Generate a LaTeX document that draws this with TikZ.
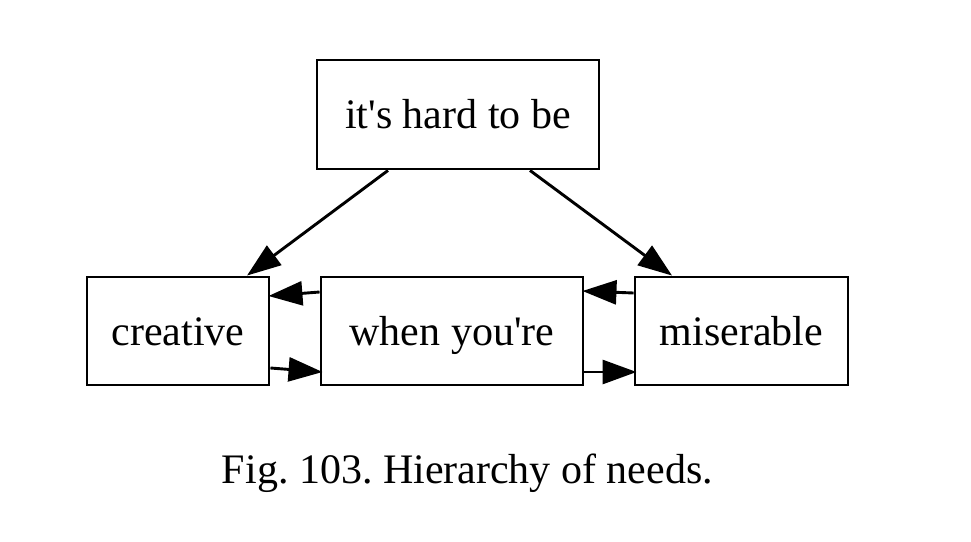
\documentclass[tikz,border=0pt]{standalone}
\usepackage{fontspec}
\setmainfont{Liberation Serif}
\usetikzlibrary{arrows.meta,calc}
\begin{document}
\frenchspacing
\begin{tikzpicture}[x=1pt,y=-1pt,
  box/.style={draw=black,line width=2.9pt,inner sep=0pt,text height=38pt,text depth=10pt,font=\fontsize{42}{50}\selectfont},
  arr/.style={line width=2.9pt,-{Triangle[length=34pt,width=24pt]}},
  captext/.style={anchor=base,inner sep=0pt,font=\fontsize{42}{50}\selectfont}]
\useasboundingbox[fill=white] (0,0) rectangle (971,541);
\node[box,minimum width=282pt,minimum height=109pt] (top) at (458,114.5) {it\textquotesingle s hard to be};
\node[box,minimum width=182pt,minimum height=108pt] (creative) at (178,331) {creative};
\node[box,minimum width=262pt,minimum height=108pt] (when) at (452,331) {when you\textquotesingle re};
\node[box,minimum width=213pt,minimum height=108pt] (miserable) at (741.5,331) {miserable};
\node[captext] (caption) at (467.5,483) {Fig. 103. Hierarchy of needs.};
\draw[arr] ($(top.south)+(-70,0)$) -- ($(creative.north)+(69,0)$);
\draw[arr] ($(top.south)+(72,0)$) -- ($(miserable.north)+(-69.5,0)$);
\draw[arr] ($(when.west)+(0,-39)$) -- ($(creative.east)+(-2,-35)$);
\draw[arr] ($(creative.east)+(0,37)$) -- ($(when.west)+(3,41)$);
\draw[arr] ($(miserable.west)+(0,-38)$) -- ($(when.east)+(-2,-40)$);
\draw[arr] ($(when.east)+(0,41)$) -- ($(miserable.west)+(3,41)$);
\end{tikzpicture}
\end{document}
